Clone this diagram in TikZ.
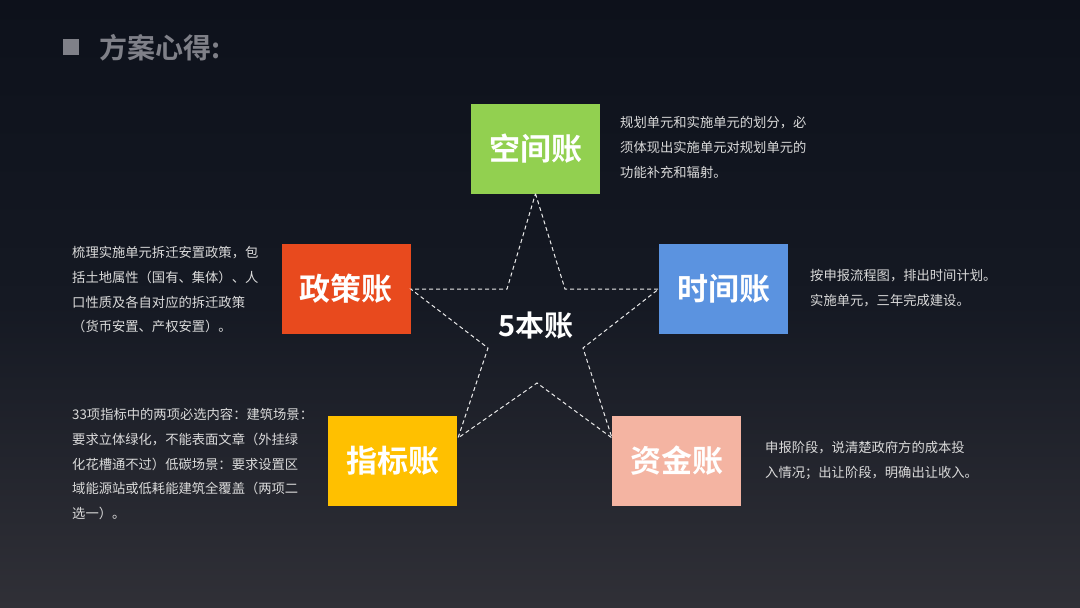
\documentclass[tikz,border=0pt]{standalone}
\usepackage{fontspec}
\newfontfamily\cjk[BoldFont={Noto Sans CJK SC Bold}]{Noto Sans CJK SC}
\definecolor{bgtop}{HTML}{0D111B}
\definecolor{bgmid}{HTML}{151923}
\definecolor{bgbot}{HTML}{303037}
\definecolor{titlegray}{HTML}{7F8088}
\definecolor{descgray}{HTML}{DADADA}
\definecolor{cgreen}{HTML}{92D050}
\definecolor{cred}{HTML}{E84A1E}
\definecolor{cblue}{HTML}{5B93E0}
\definecolor{cyellow}{HTML}{FFC000}
\definecolor{cpink}{HTML}{F4B4A2}
\tikzset{
  acct/.style={minimum width=129pt, minimum height=90pt, inner sep=0pt, text=white,
    font=\cjk\bfseries\fontsize{31}{31}\selectfont},
  desc/.style={anchor=north west, inner sep=0pt, align=left, text=descgray,
    font=\cjk\fontsize{13.3}{24.8}\selectfont},
  starline/.style={draw=white!92!black, line width=1pt, dash pattern=on 4pt off 3pt}
}
\begin{document}
\begin{tikzpicture}[x=1pt,y=-1pt]
\shade[top color=bgtop, bottom color=bgbot, middle color=bgmid] (0,0) rectangle (1080,608);
\useasboundingbox (0,0) rectangle (1080,608);
% title
\fill[titlegray] (63,39) rectangle (79,55);
\node[anchor=west, inner sep=0pt, text=titlegray, font=\cjk\bfseries\fontsize{28}{28}\selectfont] (title) at (99,48) {方案心得:};
% boxes
\node[acct, fill=cgreen] (kj) at (535.5,148.5) {空间账};
\node[acct, fill=cred] (zc) at (346,289) {政策账};
\node[acct, fill=cblue] (sj) at (723.5,289) {时间账};
\node[acct, fill=cyellow] (zb) at (392.5,460.5) {指标账};
\node[acct, fill=cpink] (zj) at (676.5,460.5) {资金账};
% center
\node[text=white, inner sep=0pt, font=\cjk\bfseries\fontsize{29}{29}\selectfont] (center) at (536,326) {5本账};
% star
\coordinate (itr) at (565,289);
\coordinate (ir) at (583,348);
\coordinate (obr) at (612,438);
\coordinate (ib) at (537,383);
\coordinate (obl) at (458,438);
\coordinate (il) at (488,348);
\coordinate (itl) at (507,289);
\draw[starline] (kj.south) -- (itr) -- (sj.west) -- (ir) -- (obr) -- (ib) -- (obl) -- (il) -- (zc.east) -- (itl) -- cycle;
% descriptions
\node[desc] (d1) at (620,116) {规划单元和实施单元的划分，必\\须体现出实施单元对规划单元的\\功能补充和辐射。};
\node[desc] (d2) at (72,246) {梳理实施单元拆迁安置政策，包\\括土地属性（国有、集体）、人\\口性质及各自对应的拆迁政策\\（货币安置、产权安置）。};
\node[desc] (d3) at (810,269) {按申报流程图，排出时间计划。\\实施单元，三年完成建设。};
\node[desc] (d4) at (72,408) {33项指标中的两项必选内容：建筑场景：\\要求立体绿化，不能表面文章（外挂绿\\化花槽通不过）低碳场景：要求设置区\\域能源站或低耗能建筑全覆盖（两项二\\选一）。};
\node[desc] (d5) at (765,441) {申报阶段，说清楚政府方的成本投\\入情况；出让阶段，明确出让收入。};
\end{tikzpicture}
\end{document}
